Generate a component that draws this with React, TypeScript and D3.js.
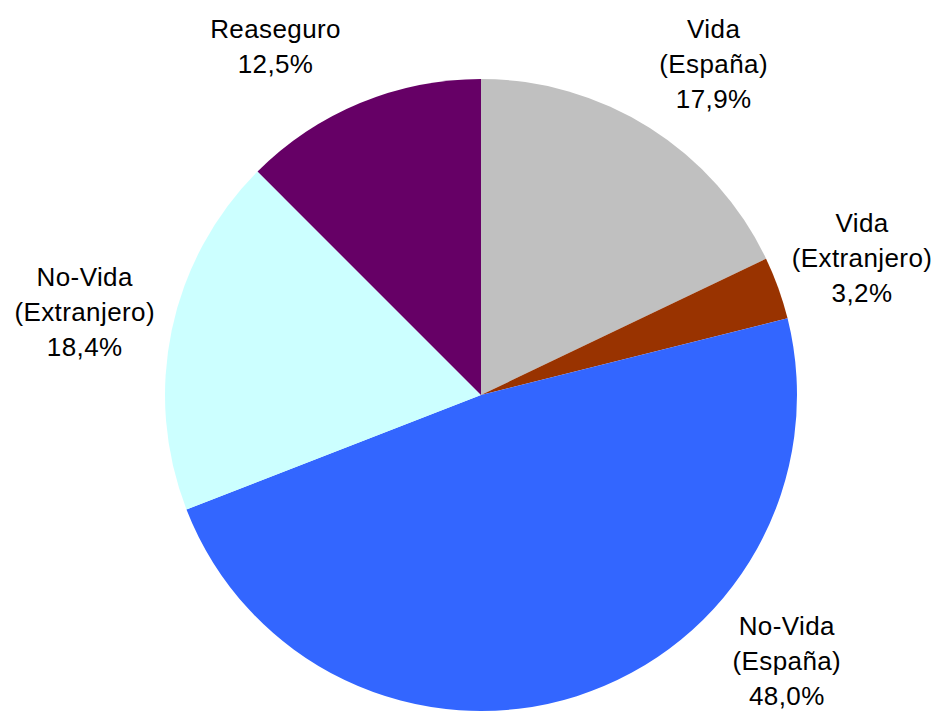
import React, { useRef, useEffect } from "react";
import * as d3 from "d3";

const categories = [
  "Vida\n(España)",
  "Vida\n(Extranjero)",
  "No-Vida\n(España)",
  "No-Vida\n(Extranjero)",
  "Reaseguro",
];
const shares = [17.9, 3.2, 48.0, 18.4, 12.5];
const colors = ["#C0C0C0", "#993300", "#3366FF", "#CCFFFF", "#660066"];

const width = 945;
const height = 711;

const App: React.FC = () => {
  const ref = useRef<SVGSVGElement | null>(null);

  useEffect(() => {
    const svg = d3.select(ref.current);
    svg.selectAll("*").remove();

    const cx = 481;
    const cy = 395;
    const radius = 316;
    const labelR = 405;
    const lineH = 35;
    const fontSize = 26;

    const data = categories.map((c, i) => ({ name: c, value: shares[i], color: colors[i] }));

    const pie = d3
      .pie<{ name: string; value: number; color: string }>()
      .value((d) => d.value)
      .sort(null);

    const arc = d3
      .arc<d3.PieArcDatum<{ name: string; value: number; color: string }>>()
      .innerRadius(0)
      .outerRadius(radius);

    const arcs = pie(data);
    const g = svg.append("g").attr("transform", `translate(${cx},${cy})`);

    g.selectAll("path")
      .data(arcs)
      .enter()
      .append("path")
      .attr("d", arc)
      .attr("fill", (d) => d.data.color);

    // etiquetas fuera del círculo, ajustadas para no salir del gráfico
    arcs.forEach((d) => {
      const mid = (d.startAngle + d.endAngle) / 2;
      const lines = [...d.data.name.split("\n"), d3.format(".1f")(d.data.value).replace(".", ",") + "%"];
      const half = (lines.length * lineH) / 2;
      let x = labelR * Math.sin(mid);
      let y = -labelR * Math.cos(mid);
      const minY = 11 + half - cy;
      const maxY = 713 - half - cy;
      if (y < minY || y > maxY) {
        y = Math.max(minY, Math.min(maxY, y));
        x = Math.sign(x) * Math.sqrt(labelR * labelR - y * y);
      }
      const t = g
        .append("text")
        .attr("text-anchor", "middle")
        .attr("font-family", "'Liberation Sans', Arial, sans-serif")
        .attr("font-size", fontSize)
        .attr("letter-spacing", 0.4)
        .attr("fill", "#000");
      lines.forEach((ln, i) => {
        t.append("tspan")
          .attr("x", x)
          .attr("y", y + (i - (lines.length - 1) / 2) * lineH + 9)
          .text(ln);
      });
    });
  }, []);

  return (
    <svg
      ref={ref}
      width={width}
      height={height}
      style={{ position: "absolute", left: 0, top: 0, background: "#fff" }}
    ></svg>
  );
};

export default App;
